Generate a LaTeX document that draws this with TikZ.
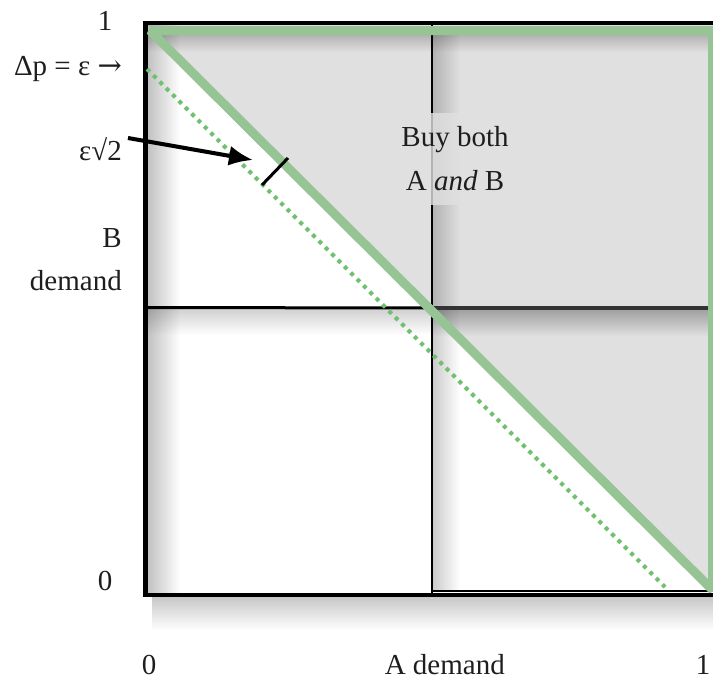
\documentclass[tikz,border=0pt]{standalone}
\usepackage{fontspec}
\setmainfont{Liberation Serif}
\newfontfamily\arrowfont{DejaVu Serif}
\usetikzlibrary{arrows.meta,fadings}
\definecolor{bggray}{RGB}{224,224,224}
\definecolor{lgreen}{RGB}{150,196,148}
\definecolor{dgreen}{RGB}{112,192,112}
\definecolor{txt}{RGB}{30,30,30}
\tikzfading[name=fadeR, left color=transparent!0, middle color=transparent!70, right color=transparent!100]
\tikzfading[name=fadeD, top color=transparent!0, middle color=transparent!70, bottom color=transparent!100]
\begin{document}
\begin{tikzpicture}[x=1pt,y=-1pt,
  lbl/.style={font=\fontsize{29}{35}\selectfont, inner sep=0pt, text=txt},
  shadowR/.style={fill=black, opacity=#1, path fading=fadeR},
  shadowD/.style={fill=black, opacity=#1, path fading=fadeD},
  boxline/.style={draw=black, line width=4.5pt},
  midline/.style={draw=black, line width=2.5pt},
  greenband/.style={draw=lgreen, line width=9pt, line join=bevel},
  greendots/.style={draw=dgreen, line width=4pt, dash pattern=on 4pt off 5pt},
  callout/.style={draw=black, line width=4pt, -{Latex[length=24pt,width=20pt]}},
  tick/.style={draw=black, line width=3pt}
]
\useasboundingbox (0,0) rectangle (713,681);
\clip (0,0) rectangle (713,681);

% shaded region (above the diagonal)
\fill[bggray] (148,25) -- (718,25) -- (718,593) -- cycle;

% soft shadows
\fill[shadowD=0.20] (148,35) rectangle (713,52);
\fill[shadowR=0.24] (148,25) rectangle (180,593);
\fill[shadowR=0.20] (433,25) rectangle (460,590);
\fill[shadowD=0.18] (148,309) rectangle (432,335);
\fill[shadowD=0.28] (432,310) rectangle (713,336);
\fill[shadowD=0.22] (152,597) rectangle (713,630);

% coordinates
\coordinate (TL) at (145.5,23);
\coordinate (BR) at (718,595);
\coordinate (Mtop) at (432,23);
\coordinate (Mbot) at (432,595);
\coordinate (Mleft) at (145.5,307.5);
\coordinate (Mid) at (432,308);
\coordinate (Mright) at (713,308);
\coordinate (Qb1) at (432,590.5);
\coordinate (Qb2) at (713,590.5);
\coordinate (G1) at (150,30.5);
\coordinate (G2) at (712.5,30.5);
\coordinate (G3) at (712.5,590);
\coordinate (D1) at (147,69);
\coordinate (D2) at (665,587);
\coordinate (T1) at (262,185);
\coordinate (T2) at (288,158);
\coordinate (A1) at (128,138);
\coordinate (A2) at (253,160);

% quadrant lines
\draw[midline] (Mtop) -- (Mbot);
\draw[midline, line width=3pt] (Mleft) -- (Mid);
\draw[draw=black!80, line width=4.5pt] (Mid) -- (Mright);
\draw[midline, line width=2pt] (Qb1) -- (Qb2);

% outer frame
\draw[boxline] (TL) rectangle (BR);

% green boundaries
\draw[greenband] (G1) -- (G2) -- (G3) -- cycle;
\draw[greendots] (D1) -- (D2);

% epsilon sqrt 2 tick and callout
\draw[tick] (T1) -- (T2);
\draw[callout, opacity=0.12, shift={(4,6)}] (A1) -- (A2);
\draw[callout] (A1) -- (A2);

% region label
\node[lbl, fill=bggray, fill opacity=0.8, text opacity=1, inner xsep=10pt, inner ysep=14pt,
      align=center, font=\fontsize{29}{44}\selectfont] (buy) at (455,159)
  {Buy both\\A \textit{and} B};

% axis labels
\node[lbl, anchor=base] (ytop) at (105,30) {1};
\node[lbl, anchor=base east] (dp) at (122,75) {Δp = ε {\arrowfont →}};
\node[lbl, anchor=base east] (eps) at (122,160) {ε√2};
\node[lbl, anchor=base east] (bl) at (122,247) {B};
\node[lbl, anchor=base east] (bd) at (122,290) {demand};
\node[lbl, anchor=base] (y0) at (105,590) {0};
\node[lbl, anchor=base] (x0) at (149,674) {0};
\node[lbl, anchor=base east] (ad) at (505,674) {A demand};
\node[lbl, anchor=base] (x1) at (703,674) {1};
\end{tikzpicture}
\end{document}
